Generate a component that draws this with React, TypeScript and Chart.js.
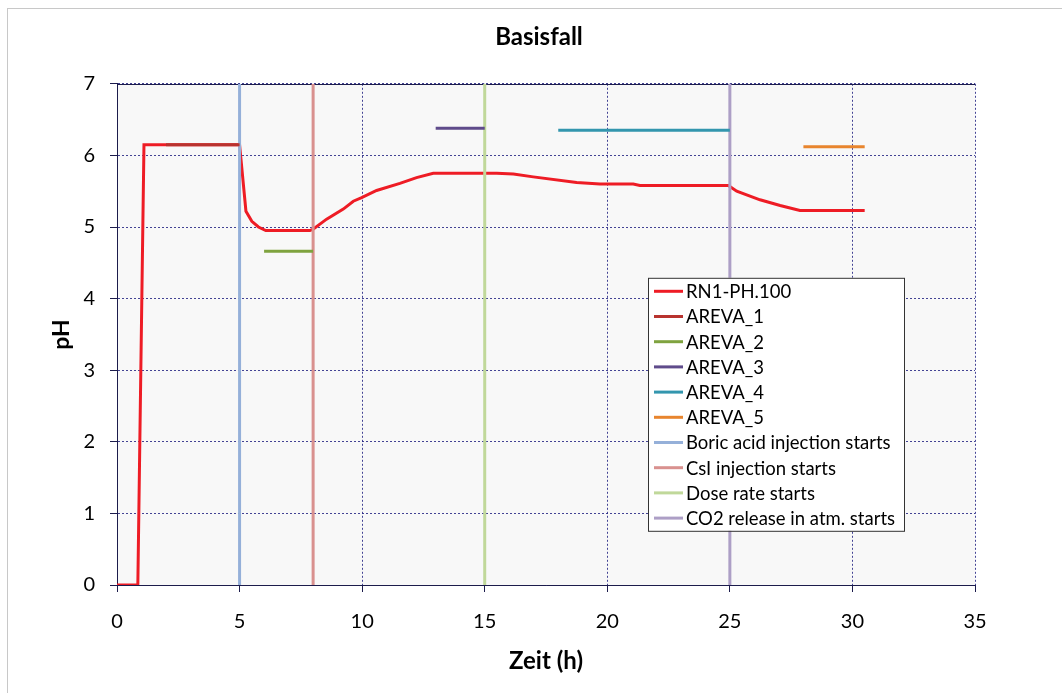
import React, { useEffect, useRef } from "react";
import { Chart, registerables } from "chart.js";

Chart.register(...registerables);

// ---- data ----
const phTime = [0, 0.85, 1.1, 2, 3, 4, 5, 5.26, 5.5, 5.77, 6.07, 7, 7.87, 8.0, 8.55, 9.23, 9.64, 9.98, 10.59, 11.54, 12.22, 12.9, 14, 15.49, 16.17, 16.98, 18.75, 19.7, 21.06, 21.33, 23, 24.94, 25.28, 26.23, 27.05, 27.86, 29, 30.5];
const phValues = [0, 0, 6.15, 6.15, 6.15, 6.15, 6.15, 5.22, 5.08, 5.0, 4.95, 4.95, 4.95, 4.97, 5.11, 5.25, 5.36, 5.41, 5.51, 5.61, 5.69, 5.75, 5.75, 5.75, 5.74, 5.7, 5.62, 5.6, 5.6, 5.58, 5.58, 5.58, 5.5, 5.38, 5.3, 5.23, 5.23, 5.23];

const areva1Time = [2, 5];
const areva1Values = [6.15, 6.15];
const areva2Time = [6, 8];
const areva2Values = [4.66, 4.66];
const areva3Time = [13, 15];
const areva3Values = [6.38, 6.38];
const areva4Time = [18, 25];
const areva4Values = [6.35, 6.35];
const areva5Time = [28, 30.5];
const areva5Values = [6.12, 6.12];

const boricTime = [5, 5];
const csiTime = [8, 8];
const doseTime = [15, 15];
const co2Time = [25, 25];
const eventRange = [0, 7];

const seriesLabels = [
  "RN1-PH.100",
  "AREVA_1",
  "AREVA_2",
  "AREVA_3",
  "AREVA_4",
  "AREVA_5",
  "Boric acid injection starts",
  "CsI injection starts",
  "Dose rate starts",
  "CO2 release in atm. starts",
];
const seriesColors = [
  "#ee1c25",
  "#b8332f",
  "#7fa33f",
  "#5f4b8b",
  "#3396ae",
  "#e8852e",
  "#95b0d9",
  "#d9918f",
  "#c0d89a",
  "#ad9fc6",
];

const xTicksMax = 35;
const yTicksMax = 7;

const FONT = "Lato";

function pts(xs: number[], ys: number[]) {
  return xs.map((x, i) => ({ x, y: ys[i] }));
}

const plotBg = {
  id: "plotBg",
  beforeDraw(chart: any) {
    const { ctx, chartArea } = chart;
    ctx.save();
    ctx.fillStyle = "#f8f8f8";
    ctx.fillRect(chartArea.left, chartArea.top, chartArea.right - chartArea.left, chartArea.bottom - chartArea.top);
    ctx.restore();
  },
  beforeDatasetsDraw(chart: any) {
    const { ctx, chartArea } = chart;
    ctx.save();
    ctx.strokeStyle = "#1c1c4c";
    ctx.lineWidth = 1;
    ctx.beginPath();
    ctx.moveTo(chartArea.left, Math.round(chartArea.top) + 0.5);
    ctx.lineTo(chartArea.right, Math.round(chartArea.top) + 0.5);
    ctx.stroke();
    ctx.restore();
  },
};

const boxLegend = {
  id: "boxLegend",
  afterDraw(chart: any) {
    const { ctx, chartArea } = chart;
    const left = chartArea.left + 531;
    const top = chartArea.top + 194;
    const w = 256;
    const h = 253;
    ctx.save();
    ctx.fillStyle = "#ffffff";
    ctx.fillRect(left, top, w, h);
    ctx.strokeStyle = "#333333";
    ctx.lineWidth = 1;
    ctx.strokeRect(left + 0.5, top + 0.5, w, h);
    ctx.font = `18.5px ${FONT}`;
    ctx.textBaseline = "middle";
    ctx.fillStyle = "#000";
    chart.data.datasets.forEach((ds: any, i: number) => {
      const y = top + 13.5 + i * 25.2;
      ctx.strokeStyle = ds.borderColor;
      ctx.lineWidth = 3;
      ctx.beginPath();
      ctx.moveTo(left + 6, y);
      ctx.lineTo(left + 35, y);
      ctx.stroke();
      ctx.fillStyle = "#000";
      ctx.fillText(ds.label, left + 38, y + 1);
    });
    ctx.restore();
  },
};

export default function App() {
  const ref = useRef<HTMLCanvasElement | null>(null);
  useEffect(() => {
    if (!ref.current) return;
    const dataSets = [
      pts(phTime, phValues),
      pts(areva1Time, areva1Values),
      pts(areva2Time, areva2Values),
      pts(areva3Time, areva3Values),
      pts(areva4Time, areva4Values),
      pts(areva5Time, areva5Values),
      pts(boricTime, eventRange),
      pts(csiTime, eventRange),
      pts(doseTime, eventRange),
      pts(co2Time, eventRange),
    ];
    const chart = new Chart(ref.current, {
      type: "line",
      data: {
        datasets: dataSets.map((d, i) => ({
          label: seriesLabels[i],
          data: d,
          borderColor: seriesColors[i],
          backgroundColor: seriesColors[i],
          borderWidth: 3,
          pointRadius: 0,
          tension: 0,
          fill: false,
          order: i === 0 ? 10 : 0,
        })),
      },
      options: {
        animation: false,
        responsive: false,
        layout: { padding: { left: 8, right: 0, top: 0, bottom: 0 } },
        plugins: {
          legend: { display: false },
          tooltip: { enabled: false },
          title: {
            display: true,
            text: "Basisfall",
            color: "#000",
            font: { family: FONT, size: 24, weight: "bold" },
            padding: { top: 14, bottom: 32 },
          },
        },
        scales: {
          x: {
            type: "linear",
            min: 0,
            max: xTicksMax,
            ticks: { stepSize: 5, color: "#000", font: { family: FONT, size: 20 }, padding: 18 },
            grid: { color: "rgba(35,35,130,0.85)", tickColor: "#1c1c4c", tickLength: 7, lineWidth: 1 },
            border: { color: "#1c1c4c", width: 1, dash: [2, 2] },
            title: {
              display: true,
              text: "Zeit (h)",
              color: "#000",
              font: { family: FONT, size: 24, weight: "bold" },
              padding: { top: 0, bottom: 17 },
            },
            afterFit: (s: any) => {
              s.height = 108;
            },
          },
          y: {
            min: 0,
            max: yTicksMax,
            ticks: { stepSize: 1, color: "#000", font: { family: FONT, size: 20 }, padding: 15 },
            grid: { color: "rgba(35,35,130,0.85)", tickColor: "#1c1c4c", tickLength: 7, lineWidth: 1 },
            border: { color: "#1c1c4c", width: 1, dash: [2, 2] },
            title: {
              display: true,
              text: "pH",
              color: "#000",
              font: { family: FONT, size: 23, weight: "bold" },
              padding: { top: 32, bottom: 0 },
            },
            afterFit: (s: any) => {
              s.width = 101;
            },
          },
          yRight: {
            position: "right",
            min: 0,
            max: yTicksMax,
            ticks: { display: false },
            grid: { display: false, drawOnChartArea: false },
            border: { display: false },
            afterFit: (s: any) => {
              s.width = 87;
            },
          },
        },
      },
      plugins: [plotBg, boxLegend],
    });
    return () => chart.destroy();
  }, []);
  return (
    <div
      style={{
        position: "fixed",
        left: 7,
        top: 8,
        width: 1055,
        height: 685,
        borderLeft: "1px solid #c8c8c8",
        borderTop: "1px solid #c8c8c8",
        background: "#fff",
      }}
    >
      <canvas ref={ref} width={1054} height={684} style={{ display: "block" }} />
    </div>
  );
}
